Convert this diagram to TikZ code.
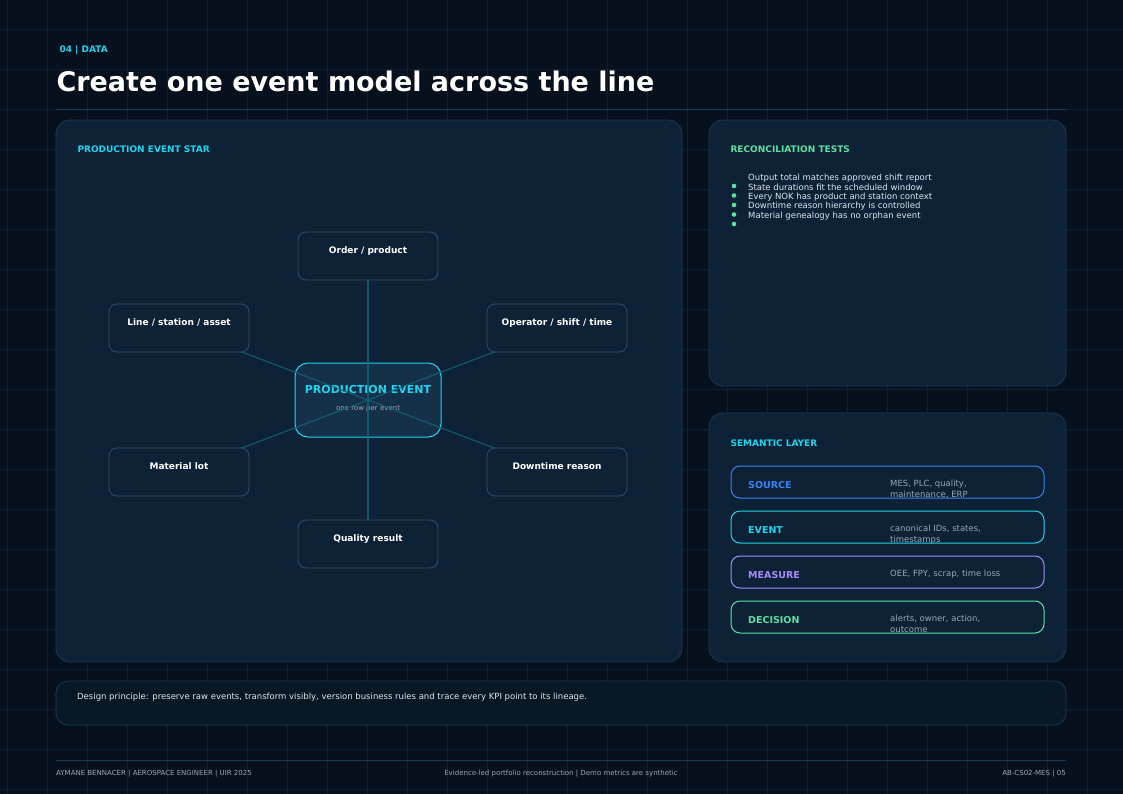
\documentclass[tikz,border=0pt]{standalone}
\usepackage{fontspec}
\setmainfont{DejaVu Sans}
\usetikzlibrary{positioning}
\definecolor{bg}{HTML}{07111D}
\definecolor{panel}{HTML}{0D2236}
\definecolor{pborder}{HTML}{1B3A55}
\definecolor{cy}{HTML}{22D3EE}
\definecolor{gr}{HTML}{5EE0A0}
\definecolor{bl}{HTML}{3B82F6}
\definecolor{pu}{HTML}{A78BFA}
\definecolor{txt}{HTML}{DCE6F0}
\definecolor{mut}{HTML}{9AA7B5}
\definecolor{gridc}{HTML}{0E2134}
\pgfdeclarelayer{fg}
\pgfsetlayers{main,fg}
\newcommand{\fs}[1]{\fontsize{#1}{#1}\selectfont}
\tikzset{
 panelbox/.style={draw=pborder,fill=panel,rounded corners=14,line width=0.8},
 outer/.style={draw=pborder!90!white,fill=panel,rounded corners=8,minimum width=140,minimum height=48,inner sep=0,line width=0.8},
 olab/.style={text=white,font=\fs{9}\bfseries,anchor=north},
 spoke/.style={draw=pborder!80!cyan,line width=1.2},
 layer/.style={rounded corners=9,line width=1,fill=panel},
 head/.style={font=\fs{9}\bfseries,anchor=west},
 foot/.style={text=mut,font=\fs{7}},
}
\begin{document}
\begin{tikzpicture}[x=1pt,y=-1pt]
\useasboundingbox (0,0) rectangle (1123,794);
\fill[bg] (0,0) rectangle (1123,794);
\foreach \x in {7,47,...,1123} \draw[gridc,line width=0.6] (\x,0) -- (\x,794);
\foreach \y in {29,69,...,794} \draw[gridc,line width=0.6] (0,\y) -- (1123,\y);
\node[head,text=cy] (kick) at (56,50) {04 | DATA};
\node[anchor=west,text=white,font=\fs{27}\bfseries] (title) at (53,81) {Create one event model across the line};
\draw[pborder,line width=0.8] (56,109) -- (1066,109);
% left panel
\draw[panelbox] (56,120) rectangle (682,662);
\node[head,text=cy] (lh) at (74,149) {PRODUCTION EVENT STAR};
\node[draw=cy,fill=pborder!60!panel,rounded corners=13,minimum width=146,minimum height=74,line width=1,inner sep=0] (ctr) at (368,400) {};
\node[text=cy,font=\fs{11}\bfseries] (ctrt) at (368,389) {PRODUCTION EVENT};
\node[text=mut,font=\fs{7}] (ctrs) at (368,409) {one row per event};
\begin{pgfonlayer}{fg}
\node[outer] (op) at (368,256) {}; \node[olab] at (op.north) [yshift=-12] {Order / product};
\node[outer] (ls) at (179,328) {}; \node[olab] at (ls.north) [yshift=-12] {Line / station / asset};
\node[outer] (os) at (557,328) {}; \node[olab] at (os.north) [yshift=-12] {Operator / shift / time};
\node[outer] (ml) at (179,472) {}; \node[olab] at (ml.north) [yshift=-12] {Material lot};
\node[outer] (dr) at (557,472) {}; \node[olab] at (dr.north) [yshift=-12] {Downtime reason};
\node[outer] (qr) at (368,544) {}; \node[olab] at (qr.north) [yshift=-12] {Quality result};
\end{pgfonlayer}
\foreach \n in {op,ls,os,ml,dr,qr} \draw[spoke,opacity=0.85] (\n.center) -- (ctr.center);
% reconciliation
\draw[panelbox] (709,120) rectangle (1066,386);
\node[head,text=gr] (rh) at (727,149) {RECONCILIATION TESTS};
\foreach \t [count=\i] in {Output total matches approved shift report,State durations fit the scheduled window,Every NOK has product and station context,Downtime reason hierarchy is controlled,Material genealogy has no orphan event}
  \node[anchor=west,text=txt,font=\fs{8.5},inner sep=0] at (748,168.5+9.5*\i) {\t};
\foreach \i in {1,...,5} \fill[gr] (734,176.5+9.5*\i) circle (2.3);
% semantic
\draw[panelbox] (709,413) rectangle (1066,662);
\node[head,text=cy] (sh) at (727,443) {SEMANTIC LAYER};
\foreach \lab/\col/\y/\da/\db in {SOURCE/bl/466/{MES, PLC, quality,}/{maintenance, ERP},EVENT/cy/511/{canonical IDs, states,}/timestamps,MEASURE/pu/556/{OEE, FPY, scrap, time loss}/{},DECISION/gr/601/{alerts, owner, action,}/outcome}{
  \draw[layer,draw=\col] (731,\y) rectangle (1044,\y+32);
  \node[anchor=west,inner sep=0,text=\col,font=\fs{9.5}\bfseries] at (748,\y+19) {\lab};
  \node[anchor=west,inner sep=0,text=mut,font=\fs{8.5}] at (890,\y+18) {\da};
  \node[anchor=west,inner sep=0,text=mut,font=\fs{8.5}] at (890,\y+29) {\db};
}
% bottom bar
\draw[draw=pborder,fill=bg!60!panel,rounded corners=12,line width=0.8] (56,681) rectangle (1066,725);
\node[anchor=west,inner sep=0,text=txt,font=\fs{8.5}] (dp) at (77,697) {Design principle: preserve raw events, transform visibly, version business rules and trace every KPI point to its lineage.};
% footer
\draw[pborder,line width=0.8] (56,760) -- (1066,760);
\node[foot,anchor=west,inner sep=0] (f1) at (56,774) {AYMANE BENNACER | AEROSPACE ENGINEER | UIR 2025};
\node[foot,inner sep=0] (f2) at (561,774) {Evidence-led portfolio reconstruction | Demo metrics are synthetic};
\node[foot,anchor=east,inner sep=0] (f3) at (1066,774) {AB-CS02-MES | 05};
\end{tikzpicture}
\end{document}
